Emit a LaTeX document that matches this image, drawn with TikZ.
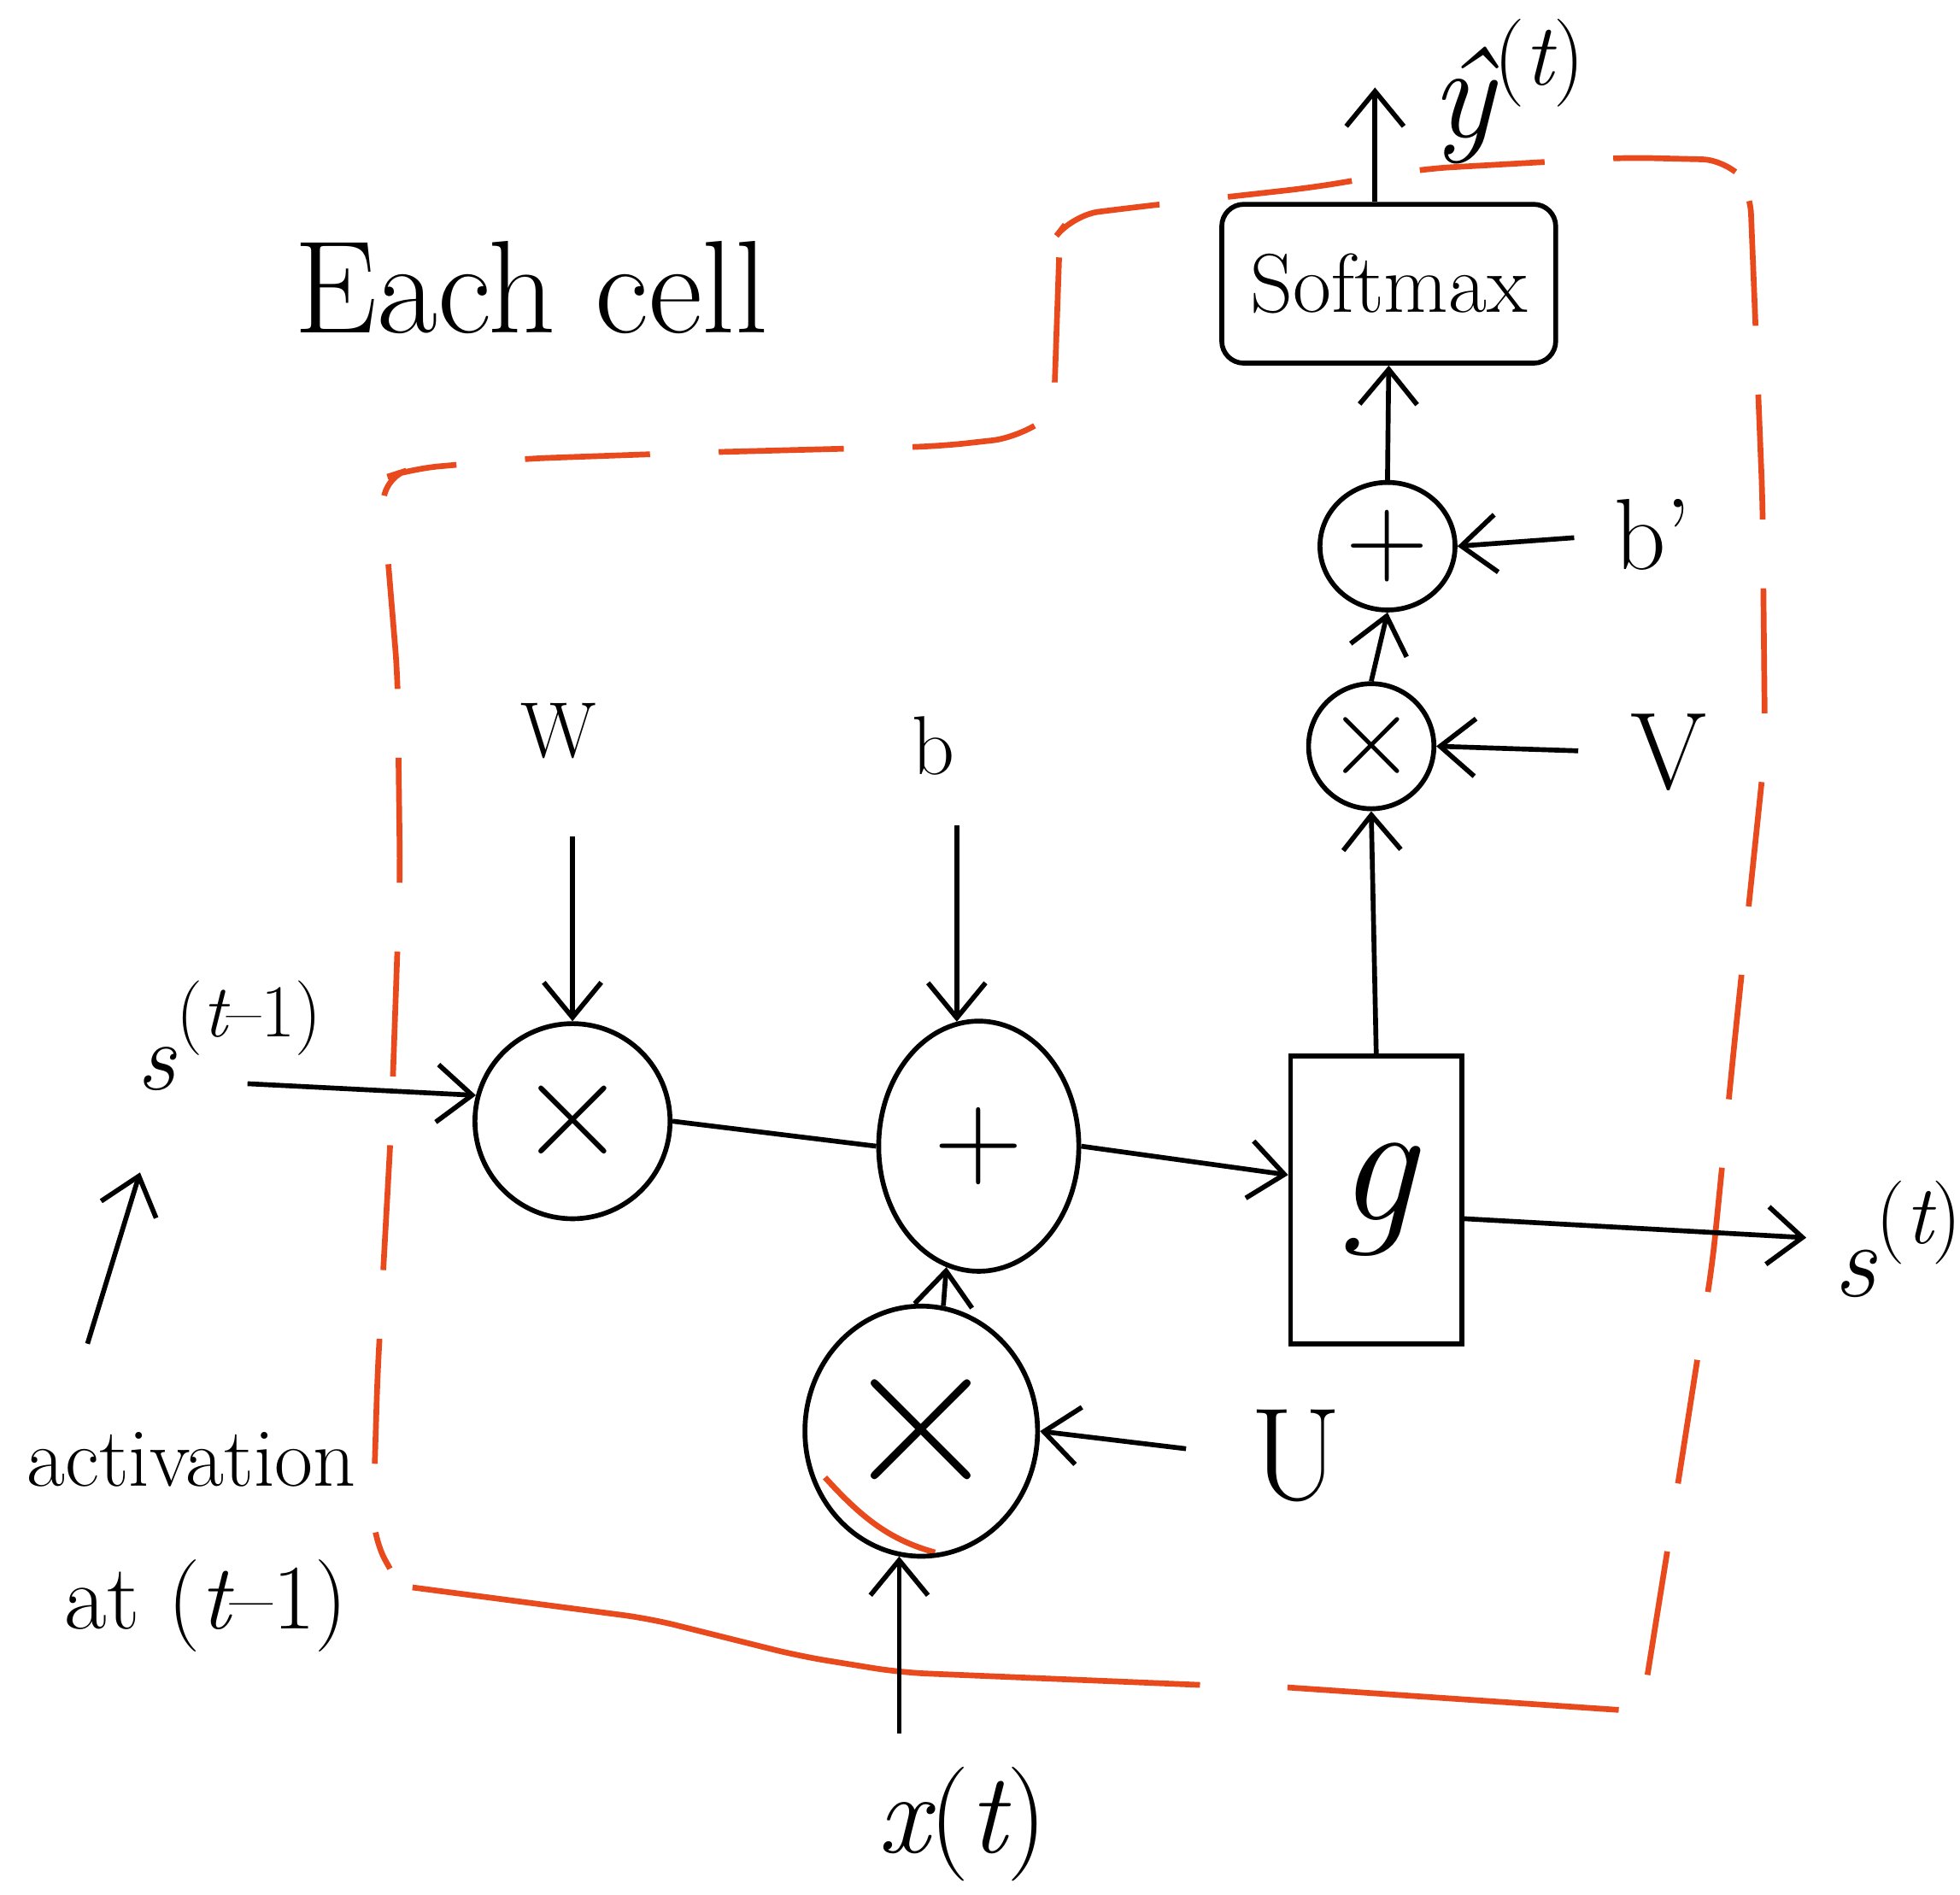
\documentclass[tikz,border=0pt]{standalone}
\usepackage{fontspec}
\usetikzlibrary{arrows.meta,shapes.geometric}
\definecolor{pen}{RGB}{232,74,30}
\newcommand{\fs}[1]{\fontsize{#1}{#1}\selectfont}
\newcommand{\upidx}[2]{\raisebox{#1}{#2}}
\begin{document}
\begin{tikzpicture}[x=0.01cm,y=-0.01cm, line width=1.1pt,
  arr/.style={-{Straight Barb[length=2.8mm,width=4.6mm]}},
  op/.style={draw, ellipse, inner sep=0pt},
  lab/.style={inner sep=0pt},
  bdry/.style={draw=pen, line width=1.3pt, rounded corners=6pt}]
\useasboundingbox (0,0) rectangle (1568,1516);

% red boundary of the cell
\draw[bdry, dash pattern=on 1.0cm off 0.55cm]
  (1318,1340) -- (1338,1215) -- (1370,1010) -- (1388,830) -- (1412,600)
  -- (1410,400) -- (1400,150) -- (1383,128) -- (1300,126) -- (1140,135)
  -- (1050,150) -- (915,165) -- (858,172) -- (848,185) -- (843,330)
  -- (815,350) -- (752,357) -- (560,362) -- (420,367) -- (330,375)
  -- (305,383) -- (318,540) -- (320,700) -- (313,900) -- (302,1100)
  -- (298,1230) -- (312,1255);
\draw[bdry] (330,1270) -- (520,1295) -- (640,1325) -- (720,1338) -- (960,1348);
\draw[bdry] (1030,1350) -- (1295,1368);
\draw[pen, line width=1.3pt] (660,1182) .. controls (690,1215) and (712,1232) .. (748,1242);

% title
\node[lab, font=\fs{30}] (title) at (425,230) {Each cell};

% operation nodes
\node[op, minimum width=1.56cm, minimum height=1.56cm, font=\fs{34}] (mul1) at (458,897) {×};
\node[op, minimum width=1.6cm, minimum height=2.0cm, font=\fs{28}] (add1) at (783,917) {+};
\node[op, minimum width=1.86cm, minimum height=2.0cm, font=\fs{50}] (mulU) at (737,1145) {×};
\node[draw, minimum width=1.37cm, minimum height=2.3cm, inner sep=0pt, font=\fs{40}\itshape] (g) at (1101,960) {g};
\node[op, minimum width=1.0cm, minimum height=1.0cm, font=\fs{28}] (mulV) at (1097,597) {×};
\node[op, minimum width=1.08cm, minimum height=1.02cm, font=\fs{26}] (add2) at (1110,437) {+};
\node[draw, minimum width=2.67cm, minimum height=1.27cm, rounded corners=5pt, inner sep=0pt, font=\fs{19}] (soft) at (1111,227) {Softmax};

% labels
\node[lab, font=\fs{18}] (W) at (447,585) {W};
\node[lab, font=\fs{19}] (b) at (747,597) {b};
\node[lab, font=\fs{30}] (U) at (1037,1165) {U};
\node[lab, font=\fs{25}] (V) at (1335,602) {V};
\node[lab, font=\fs{23}] (bp) at (1322,428) {b'};
\node[lab, font=\fs{22}, anchor=base west] (sprev) at (108,872)
  {\itshape s\upidx{0.55em}{\fs{17}\upshape(\itshape t\upshape–1)}};
\node[lab, font=\fs{24}, anchor=base west] (snext) at (1465,1037)
  {\itshape s\upidx{0.5em}{\fs{19}\upshape(\itshape t\upshape)}};
\node[lab, font=\fs{30}, anchor=base west] (yhat) at (1143,110)
  {\itshape ŷ\upidx{0.4em}{\fs{20}\upshape(\itshape t\upshape)}};
\node[lab, font=\fs{26}, anchor=base] (xt) at (770,1482) {\itshape x\upshape(\itshape t\upshape)};
\node[lab, font=\fs{19}] (act1) at (153,1168) {activation};
\node[lab, font=\fs{21}] (act2) at (165,1285) {at (\itshape t\upshape–1)};

% free ends
\coordinate (sprevtail) at (198,867);
\coordinate (acttail) at (70,1075);
\coordinate (acthead) at (112,938);
\coordinate (yout) at (1100,70);

% connectors
\draw[arr] (sprevtail) -- (mul1.165);
\draw[arr, shorten <=6mm] (W.south -| mul1.north) -- (mul1.north);
\draw (mul1.east) -- (add1.west);
\draw[arr, shorten <=3.8mm] (b.south -| add1.100) -- (add1.100);
\draw[arr] (mulU.80) -- (add1.255);
\draw[arr, shorten <=2.5mm] (xt.north -| mulU.260) -- (mulU.260);
\draw[arr, shorten <=5mm] (U.west) -- (mulU.east);
\draw[arr] (add1.east) -- ([yshift=2mm]g.west);
\draw[arr, shorten >=2mm] ([yshift=-1.5mm]g.east) -- (snext.west);
\draw[arr] (g.north) -- (mulV.south);
\draw[arr, shorten <=4mm] (V.west) -- (mulV.east);
\draw[arr] (mulV.north) -- (add2.south);
\draw[arr, shorten <=3mm] (bp.west) -- (add2.east);
\draw[arr] (add2.north) -- (soft.south);
\draw[arr] (soft.north -| yout) -- (yout);
\draw[arr] (acttail) -- (acthead);
\end{tikzpicture}
\end{document}
